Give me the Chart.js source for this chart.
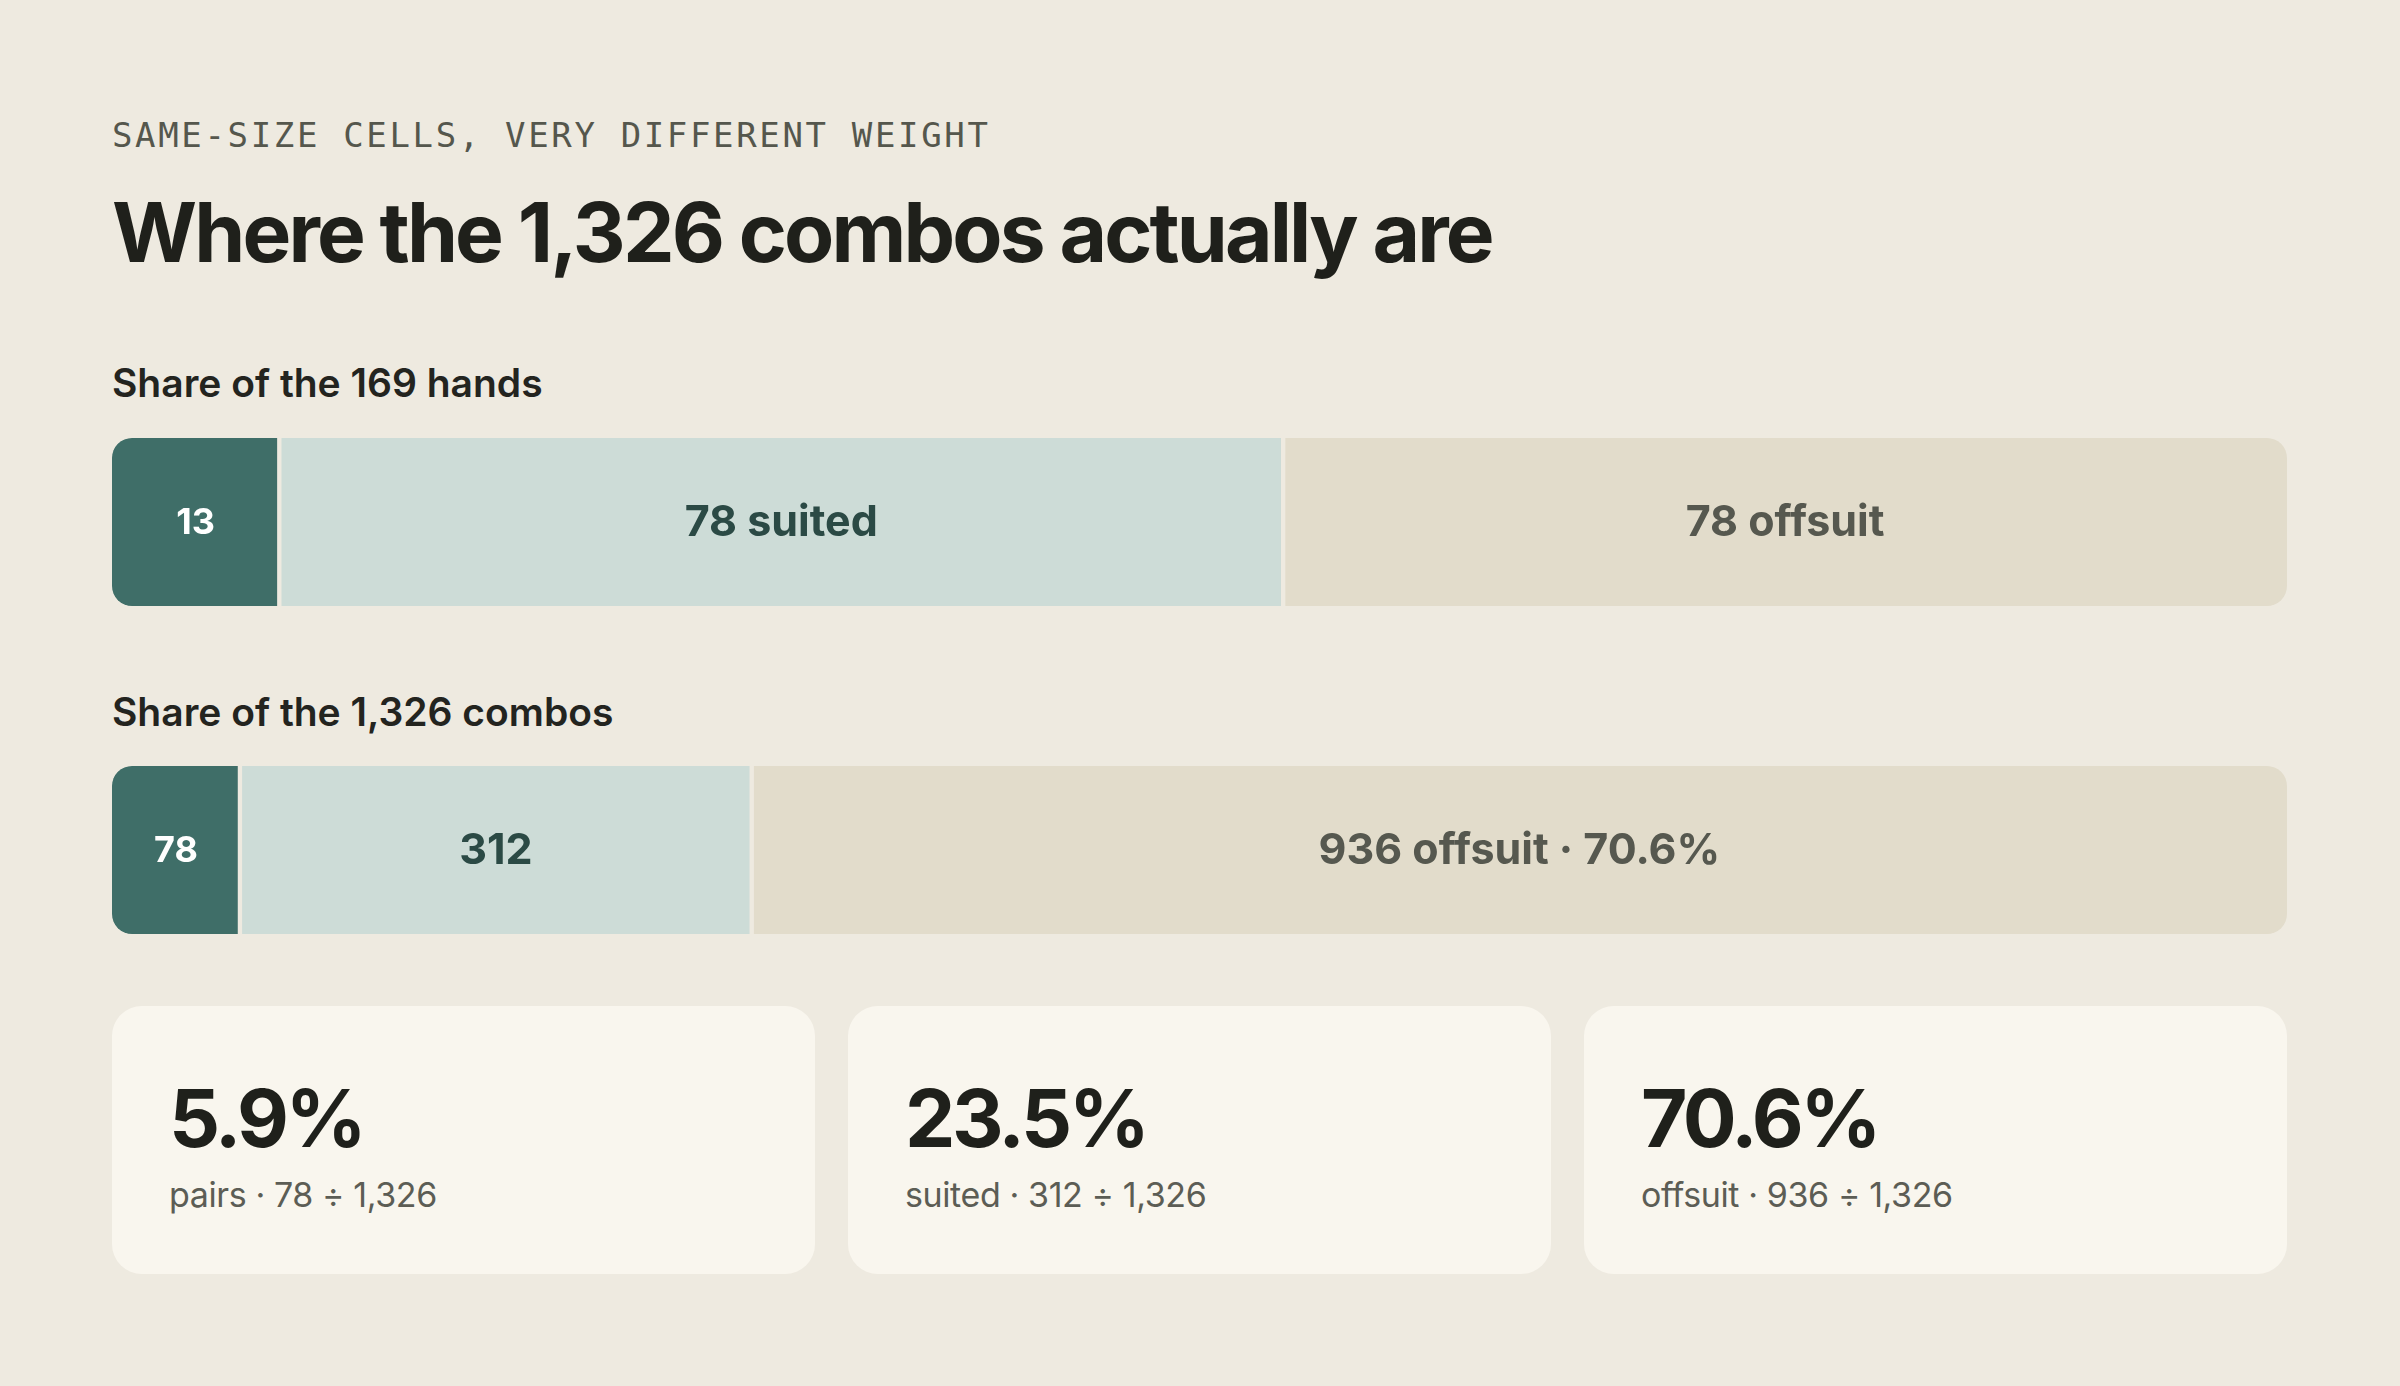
<!DOCTYPE html>
<html>
<head>
<meta charset="utf-8">
<script src="https://cdn.jsdelivr.net/npm/chart.js@4.4.1/dist/chart.umd.min.js"></script>
<style>
  html, body { margin: 0; padding: 0; }
  body {
    width: 2400px; height: 1386px; background: #eeeae0;
    font-family: Inter, "Noto Sans", sans-serif; color: #1f201b;
    position: relative; overflow: hidden;
  }
  .abs { position: absolute; left: 112px; line-height: 1; white-space: nowrap; }
  #eyebrow {
    top: 118px; font-family: "DejaVu Sans Mono", monospace; font-size: 34px;
    letter-spacing: 2.65px; color: #55574d;
  }
  #titulo { top: 192px; font-size: 82px; font-weight: 700; letter-spacing: -2.85px; }
  .etiqueta { font-size: 39px; font-weight: 600; color: #23241f; letter-spacing: 0px; }
  #lbl-manos { top: 363px; }
  #lbl-combos { top: 692px; }
  .barra { position: absolute; left: 112px; width: 2175px; height: 168px; }
  #wrap-manos { top: 438px; }
  #wrap-combos { top: 766px; }
  #tarjetas {
    position: absolute; left: 112px; top: 1006px; width: 2175px; height: 268px;
    display: flex; gap: 33px;
  }
  .tarjeta {
    flex: 1; background: #f9f6ee; border-radius: 30px; position: relative;
  }
  .tarjeta .num {
    position: absolute; left: 57px; top: 72px; font-size: 80px; font-weight: 700;
    line-height: 1; letter-spacing: -3.5px; color: #1f201b;
  }
  .tarjeta .sub {
    position: absolute; left: 57px; top: 172px; font-size: 34px; font-weight: 400;
    line-height: 1; letter-spacing: -0.4px; color: #5c5d55;
  }
</style>
</head>
<body>
  <div id="eyebrow" class="abs">SAME-SIZE CELLS, VERY DIFFERENT WEIGHT</div>
  <div id="titulo" class="abs">Where the 1,326 combos actually are</div>
  <div id="lbl-manos" class="abs etiqueta">Share of the 169 hands</div>
  <div id="wrap-manos" class="barra"><canvas id="chartManos"></canvas></div>
  <div id="lbl-combos" class="abs etiqueta">Share of the 1,326 combos</div>
  <div id="wrap-combos" class="barra"><canvas id="chartCombos"></canvas></div>
  <div id="tarjetas"></div>

<script>
// --- datos ---
const categorias = ['pairs', 'suited', 'offsuit'];
const manos = [13, 78, 78];
const combos = [78, 312, 936];
const etiquetasManos = ['13', '78 suited', '78 offsuit'];
const etiquetasCombos = ['78', '312', '936 offsuit · 70.6%'];
const porcentajes = ['5.9%', '23.5%', '70.6%'];
const textoTarjetas = ['pairs · 78 ÷ 1,326', 'suited · 312 ÷ 1,326', 'offsuit · 936 ÷ 1,326'];

const colores = ['#3f6e68', '#cddcd7', '#e2dccb'];
const coloresTexto = ['#ffffff', '#2b4a45', '#56584f'];
const fondo = '#eeeae0';
const radio = 20;

// dibuja el texto centrado dentro de cada segmento
const pluginEtiquetas = {
    id: 'etiquetas',
    afterDatasetsDraw(chart, args, opts) {
        const ctx = chart.ctx;
        ctx.save();
        ctx.textAlign = 'center';
        ctx.textBaseline = 'middle';
        chart.data.datasets.forEach((ds, i) => {
            const bar = chart.getDatasetMeta(i).data[0];
            if (!bar) return;
            const size = i === 0 ? 36 : 43;
            ctx.font = `700 ${size}px Inter, "Noto Sans", sans-serif`;
            ctx.fillStyle = coloresTexto[i];
            const cx = (bar.base + bar.x) / 2;
            ctx.fillText(opts.textos[i], cx, bar.y + 1);
        });
        ctx.restore();
    }
};

function crearBarra(idCanvas, valores, textos) {
    const total = valores.reduce((a, b) => a + b, 0);
    const ultimo = valores.length - 1;
    const datasets = valores.map((v, i) => ({
        label: categorias[i],
        data: [v],
        backgroundColor: colores[i],
        borderColor: fondo,
        borderSkipped: false,
        borderWidth: { top: 0, bottom: 0, left: i > 0 ? 2.5 : 0, right: i < ultimo ? 2.5 : 0 },
        borderRadius: {
            topLeft: i === 0 ? radio : 0,
            bottomLeft: i === 0 ? radio : 0,
            topRight: i === ultimo ? radio : 0,
            bottomRight: i === ultimo ? radio : 0
        },
        barPercentage: 1,
        categoryPercentage: 1
    }));

    return new Chart(document.getElementById(idCanvas), {
        type: 'bar',
        data: { labels: [''], datasets },
        options: {
            indexAxis: 'y',
            responsive: true,
            maintainAspectRatio: false,
            animation: false,
            layout: { padding: 0 },
            scales: {
                x: { stacked: true, min: 0, max: total, display: false },
                y: { stacked: true, display: false }
            },
            plugins: {
                legend: { display: false },
                tooltip: { enabled: false },
                etiquetas: { textos }
            }
        },
        plugins: [pluginEtiquetas]
    });
}

function renderTarjetas() {
    const cont = document.getElementById('tarjetas');
    cont.innerHTML = porcentajes.map((p, i) => `
        <div class="tarjeta">
            <div class="num">${p}</div>
            <div class="sub">${textoTarjetas[i]}</div>
        </div>`).join('');
}

renderTarjetas();
crearBarra('chartManos', manos, etiquetasManos);
crearBarra('chartCombos', combos, etiquetasCombos);
</script>
</body>
</html>
